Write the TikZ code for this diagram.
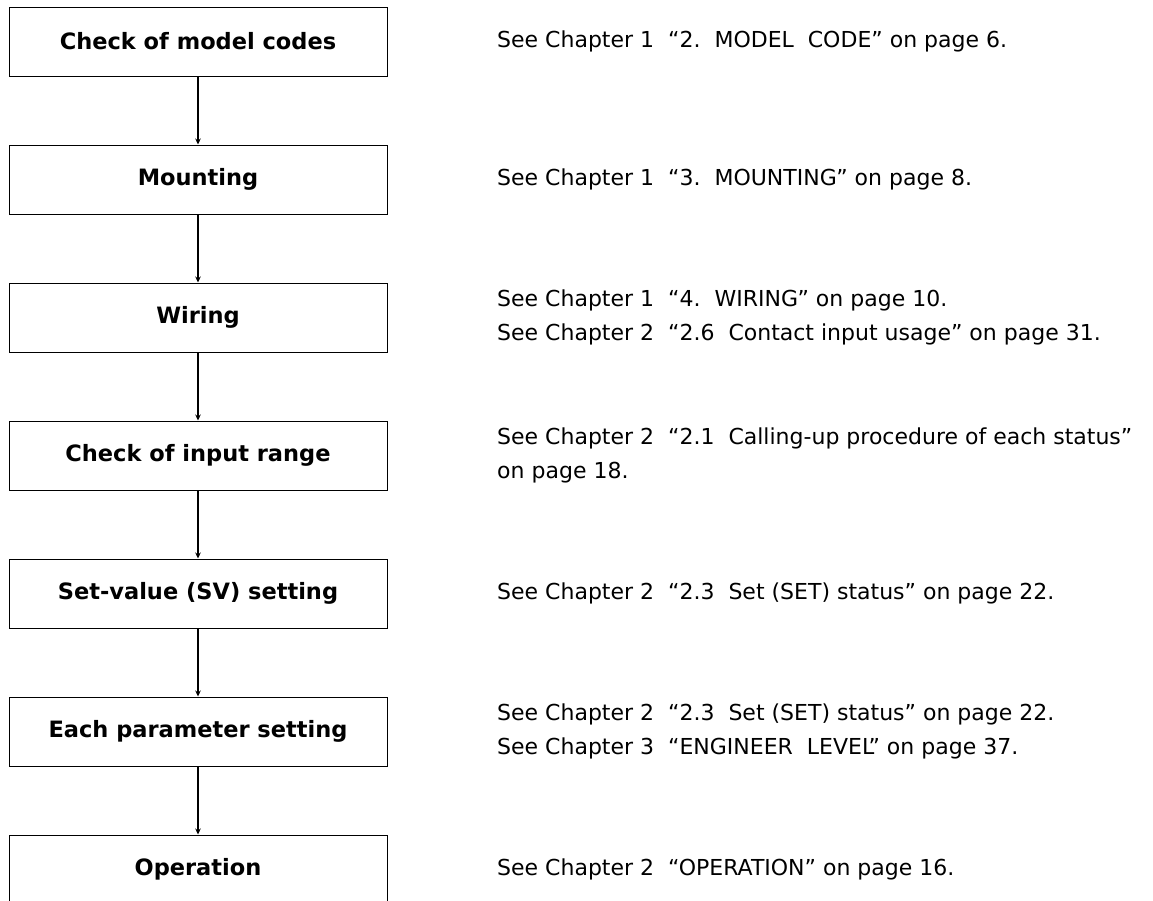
\documentclass[tikz,border=0pt]{standalone}
\usepackage{fontspec}
\setmainfont{DejaVu Sans}
\usetikzlibrary{arrows.meta}
\tikzset{
  stepbox/.style={draw=black, line width=1pt, minimum width=378pt, minimum height=69pt,
    inner sep=0pt, font=\fontsize{22.5pt}{27pt}\selectfont\bfseries},
  reftext/.style={anchor=west, align=left, inner sep=0pt,
    font=\fontsize{22pt}{34pt}\selectfont},
  flow/.style={line width=1.1pt, -{Stealth[length=6pt,width=5.5pt]}}
}
\begin{document}
\begin{tikzpicture}[x=1pt,y=-1pt]
\clip (0,0) rectangle (1153,900);
\fill[white] (0,0) rectangle (1153,900);
\node[stepbox] (b1) at (198,41.5) {Check of model codes};
\node[stepbox] (b2) at (198,179.5) {Mounting};
\node[stepbox] (b3) at (198,317.5) {Wiring};
\node[stepbox] (b4) at (198,455.5) {Check of input range};
\node[stepbox] (b5) at (198,593.5) {Set-value (SV) setting};
\node[stepbox] (b6) at (198,731.5) {Each parameter setting};
\node[stepbox] (b7) at (198,869.5) {Operation};
\foreach \a/\b in {b1/b2,b2/b3,b3/b4,b4/b5,b5/b6,b6/b7}
  \draw[flow] (\a.south) -- (\b.north);
\node[reftext] (t1) at (497,41.5) {See Chapter 1\ \ “2.\ \ MODEL\ \ CODE” on page 6.};
\node[reftext] (t2) at (497,179.5) {See Chapter 1\ \ “3.\ \ MOUNTING” on page 8.};
\node[reftext] (t3) at (497,317.5) {See Chapter 1\ \ “4.\ \ WIRING” on page 10.\\See Chapter 2\ \ “2.6\ \ Contact input usage” on page 31.};
\node[reftext] (t4) at (497,455.5) {See Chapter 2\ \ “2.1\ \ Calling-up procedure of each status”\\on page 18.};
\node[reftext] (t5) at (497,593.5) {See Chapter 2\ \ “2.3\ \ Set (SET) status” on page 22.};
\node[reftext] (t6) at (497,731.5) {See Chapter 2\ \ “2.3\ \ Set (SET) status” on page 22.\\See Chapter 3\ \ “ENGINEER\ \ LEVEL” on page 37.};
\node[reftext] (t7) at (497,869.5) {See Chapter 2\ \ “OPERATION” on page 16.};
\end{tikzpicture}
\end{document}
